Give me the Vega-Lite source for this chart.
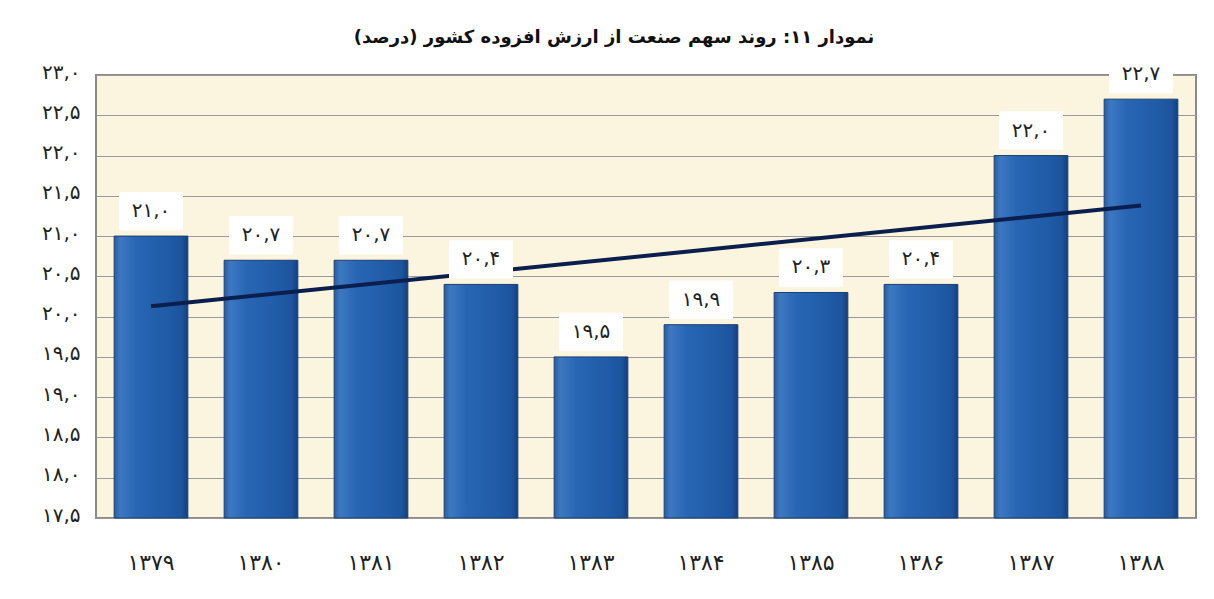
{
  "$schema": "https://vega.github.io/schema/vega-lite/v6.json",
  "width": 1100,
  "height": 443,
  "autosize": "none",
  "padding": {"left": 96, "top": 75, "right": 18, "bottom": 81},
  "background": "#ffffff",
  "title": {
    "text": "‏نمودار ۱۱: روند سهم صنعت از ارزش افزوده کشور (درصد)‏",
    "font": "DejaVu Sans",
    "fontSize": 18,
    "fontWeight": "bold",
    "color": "#111111",
    "anchor": "middle",
    "dx": -32,
    "offset": 8
  },
  "datasets": {
    "bars": [
      {"year": "۱۳۷۹", "value": 21.0, "label": "۲۱,۰"},
      {"year": "۱۳۸۰", "value": 20.7, "label": "۲۰,۷"},
      {"year": "۱۳۸۱", "value": 20.7, "label": "۲۰,۷"},
      {"year": "۱۳۸۲", "value": 20.4, "label": "۲۰,۴"},
      {"year": "۱۳۸۳", "value": 19.5, "label": "۱۹,۵"},
      {"year": "۱۳۸۴", "value": 19.9, "label": "۱۹,۹"},
      {"year": "۱۳۸۵", "value": 20.3, "label": "۲۰,۳"},
      {"year": "۱۳۸۶", "value": 20.4, "label": "۲۰,۴"},
      {"year": "۱۳۸۷", "value": 22.0, "label": "۲۲,۰"},
      {"year": "۱۳۸۸", "value": 22.7, "label": "۲۲,۷"}
    ],
    "trend": [
      {"year": "۱۳۷۹", "value": 20.13},
      {"year": "۱۳۸۸", "value": 21.38}
    ]
  },
  "config": {
    "view": {"fill": "#FBF4DF", "stroke": "#8a8a8a", "strokeWidth": 2},
    "font": "DejaVu Sans"
  },
  "encoding": {
    "x": {
      "field": "year",
      "type": "nominal",
      "sort": null,
      "scale": {"paddingInner": 0.33, "paddingOuter": 0.165},
      "axis": {
        "title": null,
        "labelAngle": 0,
        "labelFont": "DejaVu Sans",
        "labelFontSize": 22,
        "labelFontWeight": "normal",
        "labelColor": "#222222",
        "labelPadding": 34,
        "ticks": false,
        "domain": false
      }
    },
    "y": {
      "field": "value",
      "type": "quantitative",
      "scale": {"domain": [17.5, 23], "zero": false, "nice": false},
      "axis": {
        "title": null,
        "values": [17.5, 18, 18.5, 19, 19.5, 20, 20.5, 21, 21.5, 22, 22.5, 23],
        "labelExpr": "replace(replace(replace(replace(replace(replace(replace(replace(replace(replace(replace(format(datum.value,'.1f'),'.',','),regexp('0','g'),'۰'),regexp('1','g'),'۱'),regexp('2','g'),'۲'),regexp('3','g'),'۳'),regexp('4','g'),'۴'),regexp('5','g'),'۵'),regexp('6','g'),'۶'),regexp('7','g'),'۷'),regexp('8','g'),'۸'),regexp('9','g'),'۹')",
        "labelFont": "DejaVu Sans",
        "labelFontSize": 20,
        "labelColor": "#222222",
        "labelPadding": 16,
        "labelBaseline": "middle",
        "labelOffset": -3,
        "ticks": false,
        "domain": false,
        "grid": true,
        "gridColor": "#9a9a9a",
        "gridWidth": 1.2
      }
    }
  },
  "layer": [
    {
      "data": {"name": "bars"},
      "mark": {
        "type": "bar",
        "stroke": "#1b3f72",
        "strokeWidth": 1,
        "color": {
          "gradient": "linear",
          "x1": 0, "x2": 1, "y1": 0, "y2": 0,
          "stops": [
            {"offset": 0, "color": "#2b5c9f"},
            {"offset": 0.08, "color": "#3d78c2"},
            {"offset": 0.3, "color": "#2866b3"},
            {"offset": 0.7, "color": "#205ca8"},
            {"offset": 0.92, "color": "#1c549d"},
            {"offset": 1, "color": "#163f78"}
          ]
        }
      },
      "encoding": {"y2": {"datum": 17.5}}
    },
    {
      "data": {"name": "trend"},
      "mark": {"type": "line", "color": "#0b1f4e", "strokeWidth": 4}
    },
    {
      "data": {"name": "bars"},
      "mark": {
        "type": "point",
        "shape": "M-1,-0.6H1V0.6H-1Z",
        "size": 4096,
        "filled": true,
        "fill": "#ffffff",
        "opacity": 1,
        "strokeWidth": 0,
        "yOffset": -25
      }
    },
    {
      "data": {"name": "bars"},
      "mark": {
        "type": "text",
        "font": "DejaVu Sans",
        "fontSize": 20,
        "color": "#222222",
        "baseline": "middle",
        "align": "center",
        "yOffset": -25
      },
      "encoding": {"text": {"field": "label"}}
    }
  ]
}
